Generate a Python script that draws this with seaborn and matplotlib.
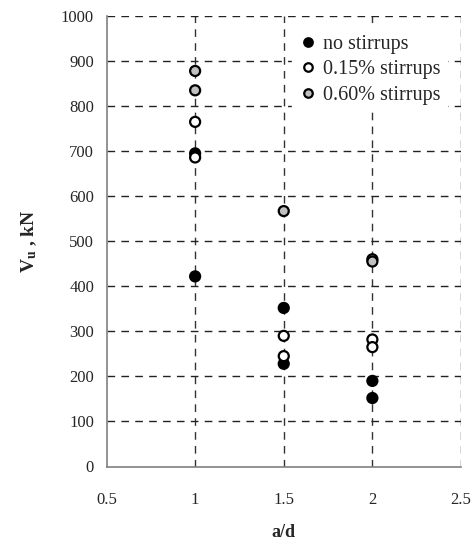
import matplotlib
matplotlib.use("Agg")
import matplotlib.pyplot as plt
import seaborn as sns
import pandas as pd

no_x = [1, 1, 1.5, 1.5, 2, 2]
no_y = [695, 422, 352, 228, 190, 152]
p15_x = [1, 1, 1.5, 1.5, 2, 2]
p15_y = [765, 686, 290, 245, 282, 265]
p60_x = [1, 1, 1.5, 2, 2]
p60_y = [878, 835, 567, 460, 455]
series_names = ["no stirrups", "0.15% stirrups", "0.60% stirrups"]
x_ticks = [0.5, 1, 1.5, 2, 2.5]
x_tick_labels = ["0.5", "1", "1.5", "2", "2.5"]
y_ticks = list(range(0, 1001, 100))

rows = []
for name, xs, ys in zip(series_names, [no_x, p15_x, p60_x], [no_y, p15_y, p60_y]):
    for x, y in zip(xs, ys):
        rows.append({"a/d": x, "Vu": y, "series": name})
df = pd.DataFrame(rows)

sns.set_style("white")
plt.rcParams["font.family"] = ["Liberation Serif", "DejaVu Serif"]
plt.rcParams["mathtext.fontset"] = "custom"
plt.rcParams["mathtext.rm"] = "Liberation Serif"
plt.rcParams["mathtext.bf"] = "Liberation Serif:bold"
plt.rcParams["mathtext.it"] = "Liberation Serif:italic"

fig = plt.figure(figsize=(4.73, 5.44), dpi=100)
ax = fig.add_axes([106.5 / 473, (544 - 466.5) / 544, (461 - 106.5) / 473, (466.5 - 16) / 544])

palette = {"no stirrups": "black", "0.15% stirrups": "white", "0.60% stirrups": "#c0c0c0"}
sns.scatterplot(data=df, x="a/d", y="Vu", hue="series", palette=palette, hue_order=series_names,
                s=52, edgecolor="black", linewidth=1.6, ax=ax, zorder=5, legend=True)

ax.set_xlim(0.5, 2.5)
ax.set_ylim(0, 1000)
ax.set_xticks(x_ticks)
ax.set_xticklabels(x_tick_labels)
ax.set_yticks(y_ticks)

for xv in x_ticks[1:]:
    ax.axvline(xv, color="#333333", linestyle=(0, (5.5, 4.5)), linewidth=1.0, zorder=1)
for yv in y_ticks[1:]:
    ax.axhline(yv, color="#222222", linestyle=(0, (5.5, 4.5)), linewidth=1.0, zorder=1)

for s in ["top", "right"]:
    ax.spines[s].set_visible(False)
for s in ["left", "bottom"]:
    ax.spines[s].set_color("#808080")
    ax.spines[s].set_linewidth(1.2)
ax.tick_params(axis="both", direction="out", length=4, color="#808080", labelsize=12, width=1)
ax.tick_params(axis="x", pad=14)
ax.tick_params(axis="y", pad=5)

ax.set_xlabel("a/d", fontsize=13, fontweight="bold", labelpad=12)
ax.set_ylabel(r"V$_\mathbf{u}$ , kN", fontsize=14, fontweight="bold", labelpad=16)

leg = ax.legend(loc="upper left", bbox_to_anchor=((292 - 106.5) / 354.5, 0.972), frameon=True,
                fontsize=14.5, handlelength=1.0, handletextpad=0.25, borderpad=0.3,
                labelspacing=0.33, markerscale=0.85, borderaxespad=0.0)
leg.get_frame().set_edgecolor("white")
leg.get_frame().set_facecolor("white")
leg.get_frame().set_alpha(1)
leg.set_zorder(10)

fig.savefig("out.png", dpi=100)
